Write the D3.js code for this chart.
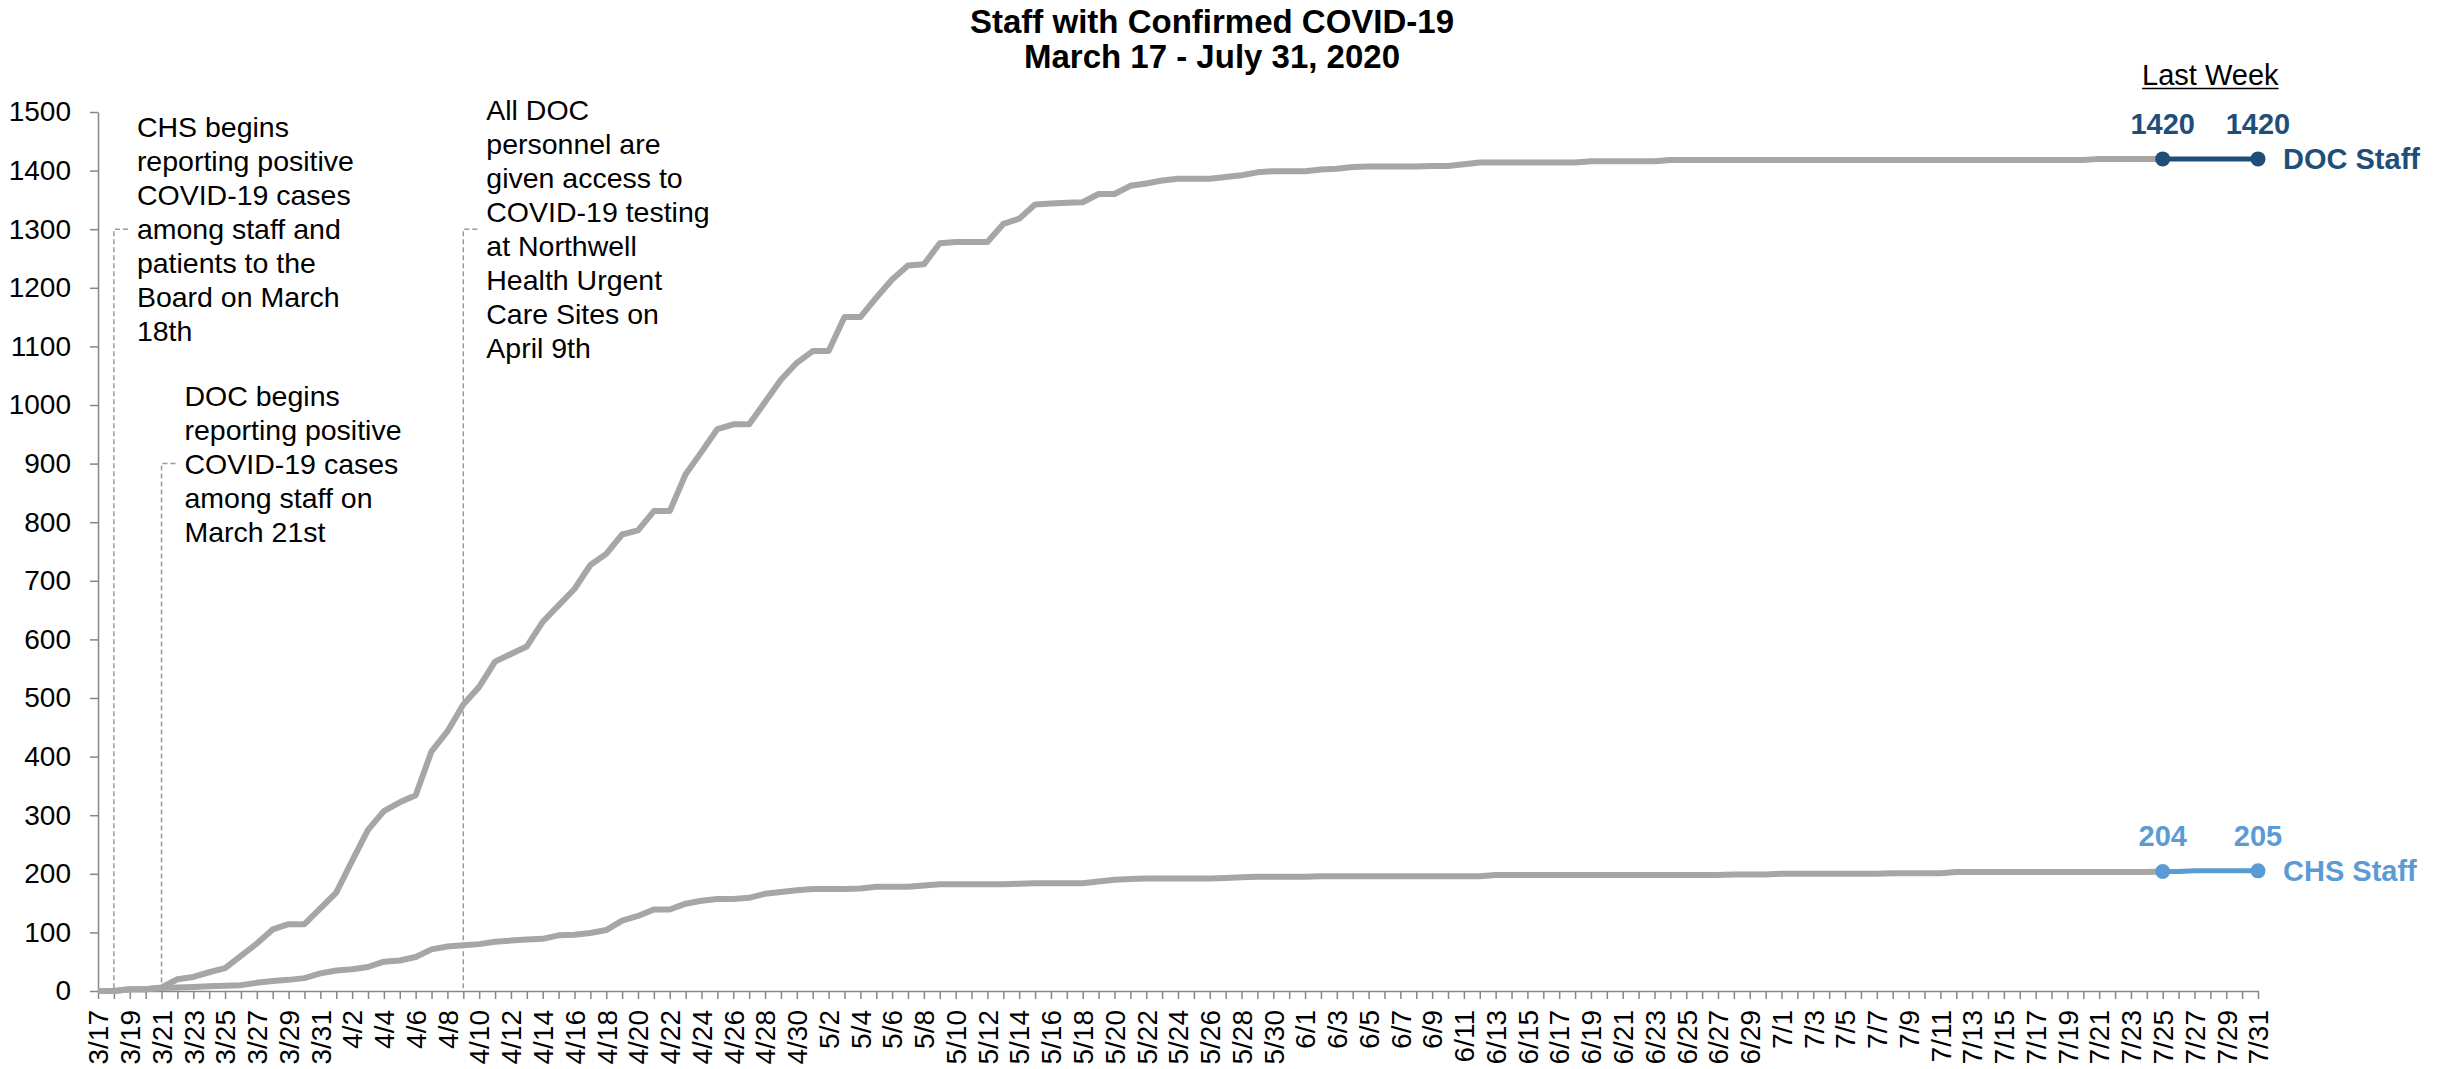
<!DOCTYPE html>
<html>
<head>
<meta charset="utf-8">
<script src="https://cdn.jsdelivr.net/npm/d3@7"></script>
<style>
  html, body { margin: 0; padding: 0; background: #fff; }
  svg { display: block; font-family: "Liberation Sans", Arial, sans-serif; }
</style>
</head>
<body>
<svg id="chart" width="2446" height="1069"></svg>
<script>
// ---------------- DATA ----------------
const titleLines = ["Staff with Confirmed COVID-19", "March 17 - July 31, 2020"];

const fmt = d3.utcFormat("%-m/%-d");
const categories = d3.utcDays(Date.UTC(2020, 2, 17), Date.UTC(2020, 7, 1)).map(fmt); // 3/17 .. 7/31

const docStaff = [
  0,0,3,3,6,20,24,32,39,60,
  81,105,114,114,141,168,222,275,307,322,
  334,409,443,489,519,562,575,588,630,658,
  686,727,746,779,786,819,819,882,920,959,
  967,967,1005,1043,1072,1092,1092,1150,1150,1183,
  1214,1238,1240,1276,1278,1278,1278,1309,1318,1342,
  1344,1345,1346,1360,1360,1374,1378,1383,1386,1386,
  1386,1389,1392,1397,1399,1399,1399,1402,1403,1406,
  1407,1407,1407,1407,1408,1408,1411,1414,1414,1414,
  1414,1414,1414,1414,1416,1416,1416,1416,1416,1418,
  1418,1418,1418,1418,1418,1418,1418,1418,1418,1418,
  1418,1418,1418,1418,1418,1418,1418,1418,1418,1418,
  1418,1418,1418,1418,1418,1418,1420,1420,1420,1420,
  1420,1420,1420,1420,1420,1420,1420
];

const chsStaff = [
  0,0,3,3,5,6,7,8,9,10,
  14,17,19,22,30,35,37,41,50,52,
  58,71,76,78,80,84,86,88,89,95,
  96,99,104,120,128,139,139,149,154,157,
  157,159,166,169,172,174,174,174,175,178,
  178,178,180,182,182,182,182,182,183,184,
  184,184,184,187,190,191,192,192,192,192,
  192,193,194,195,195,195,195,196,196,196,
  196,196,196,196,196,196,196,196,198,198,
  198,198,198,198,198,198,198,198,198,198,
  198,198,198,199,199,199,200,200,200,200,
  200,200,200,201,201,201,201,203,203,203,
  203,203,203,203,203,203,203,203,203,203,
  204,204,205,205,205,205,205
];

const yTicks = [0,100,200,300,400,500,600,700,800,900,1000,1100,1200,1300,1400,1500];

const lastWeekStart = "7/25";
const lastWeekLabel = "Last Week";
const seriesNames = ["DOC Staff", "CHS Staff"];

const annotationDates  = ["3/18", "3/21", "4/9"];
const annotationLevels = [1300, 900, 1300];
const annotationTexts  = [
  ["CHS begins", "reporting positive", "COVID-19 cases", "among staff and", "patients to the", "Board on March", "18th"],
  ["DOC begins", "reporting positive", "COVID-19 cases", "among staff on", "March 21st"],
  ["All DOC", "personnel are", "given access to", "COVID-19 testing", "at Northwell", "Health Urgent", "Care Sites on", "April 9th"]
];

// ---------------- CHART ----------------
(function () {
const svg = d3.select("#chart");
const pLeft = 98, pRight = 2258, pTop = 112, pBottom = 991;

const x = d3.scalePoint().domain(categories).range([pLeft, pRight]);
const y = d3.scaleLinear().domain([0, 1500]).range([pBottom, pTop]);

const axisColor = "#868686";
const grey = "#A6A6A6";
const docBlue = "#1F4E79";
const chsBlue = "#5B9BD5";

// Title
svg.append("g").selectAll("text").data(titleLines).join("text")
  .attr("x", 1212).attr("y", (d, i) => 33 + i * 35)
  .attr("text-anchor", "middle").attr("font-size", 33).attr("font-weight", "bold")
  .attr("fill", "#000").text(d => d);

// Annotation leader lines (dashed)
const ann = svg.append("g");
annotationDates.forEach((dt, i) => {
  const ax = x(dt), ay = y(annotationLevels[i]);
  ann.append("path")
    .attr("d", `M${ax + 14},${ay} H${ax} V${pBottom}`)
    .attr("fill", "none").attr("stroke", "#9a9a9a").attr("stroke-width", 1.5)
    .attr("stroke-dasharray", "5,3");
  const lines = annotationTexts[i];
  const lh = 34;
  const y0 = ay - (lines.length - 1) * lh / 2 + 10;
  ann.append("g").selectAll("text").data(lines).join("text")
    .attr("x", ax + 23).attr("y", (d, k) => y0 + k * lh)
    .attr("font-size", 28.5).attr("fill", "#000").text(d => d);
});

// Y axis
const yAxis = svg.append("g").attr("transform", `translate(${pLeft},0)`)
  .call(d3.axisLeft(y).tickValues(yTicks).tickFormat(d3.format("d"))
    .tickSize(8).tickSizeOuter(0).tickPadding(19));
yAxis.select(".domain").attr("stroke", axisColor).attr("stroke-width", 1.5);
yAxis.selectAll(".tick line").attr("stroke", axisColor).attr("stroke-width", 1.5);
yAxis.selectAll(".tick text").attr("font-size", 28).attr("fill", "#000")
  .attr("font-family", "Liberation Sans, Arial, sans-serif");

// X axis
const xAxis = svg.append("g").attr("transform", `translate(0,${pBottom})`)
  .call(d3.axisBottom(x).tickSize(8).tickSizeOuter(0)
    .tickFormat((d, i) => i % 2 === 0 ? d : ""));
xAxis.select(".domain").attr("stroke", axisColor).attr("stroke-width", 1.5);
xAxis.selectAll(".tick line").attr("stroke", axisColor).attr("stroke-width", 1.5);
xAxis.selectAll(".tick text")
  .attr("font-size", 28).attr("fill", "#000")
  .attr("font-family", "Liberation Sans, Arial, sans-serif")
  .attr("text-anchor", "end")
  .attr("transform", "rotate(-90)")
  .attr("x", -19).attr("y", 0).attr("dy", "0.35em");

// Series lines
const lineGen = d3.line().x(d => x(d.c)).y(d => y(d.v));
const lwIdx = categories.indexOf(lastWeekStart);
const series = [
  { name: seriesNames[0], values: docStaff, color: docBlue },
  { name: seriesNames[1], values: chsStaff, color: chsBlue }
];

series.forEach(s => {
  const pts = s.values.map((v, i) => ({ c: categories[i], v }));
  svg.append("path").datum(pts.slice(0, lwIdx + 1))
    .attr("d", lineGen).attr("fill", "none").attr("stroke", grey)
    .attr("stroke-width", 6).attr("stroke-linejoin", "round");
  const last = pts.slice(lwIdx);
  svg.append("path").datum(last)
    .attr("d", lineGen).attr("fill", "none").attr("stroke", s.color)
    .attr("stroke-width", 5).attr("stroke-linejoin", "round");
  const ends = [last[0], last[last.length - 1]];
  svg.append("g").selectAll("circle").data(ends).join("circle")
    .attr("cx", d => x(d.c)).attr("cy", d => y(d.v)).attr("r", 7.5)
    .attr("fill", s.color);
  svg.append("g").selectAll("text").data(ends).join("text")
    .attr("x", d => x(d.c)).attr("y", d => y(d.v) - 25)
    .attr("text-anchor", "middle").attr("font-size", 29).attr("font-weight", "bold")
    .attr("fill", s.color).text(d => d.v);
  svg.append("text")
    .attr("x", x(ends[1].c) + 25).attr("y", y(ends[1].v) + 10)
    .attr("font-size", 29).attr("font-weight", "bold").attr("fill", s.color)
    .text(s.name);
});

// Last Week label (underlined)
const lwCenter = (x(lastWeekStart) + x(categories[categories.length - 1])) / 2;
const lwText = svg.append("text")
  .attr("x", lwCenter).attr("y", 85).attr("text-anchor", "middle")
  .attr("font-size", 29).attr("fill", "#000").text(lastWeekLabel);
const lwLen = lwText.node().getComputedTextLength();
svg.append("line")
  .attr("x1", lwCenter - lwLen / 2).attr("x2", lwCenter + lwLen / 2)
  .attr("y1", 88.5).attr("y2", 88.5)
  .attr("stroke", "#000").attr("stroke-width", 1.5);
})();
</script>
</body>
</html>
